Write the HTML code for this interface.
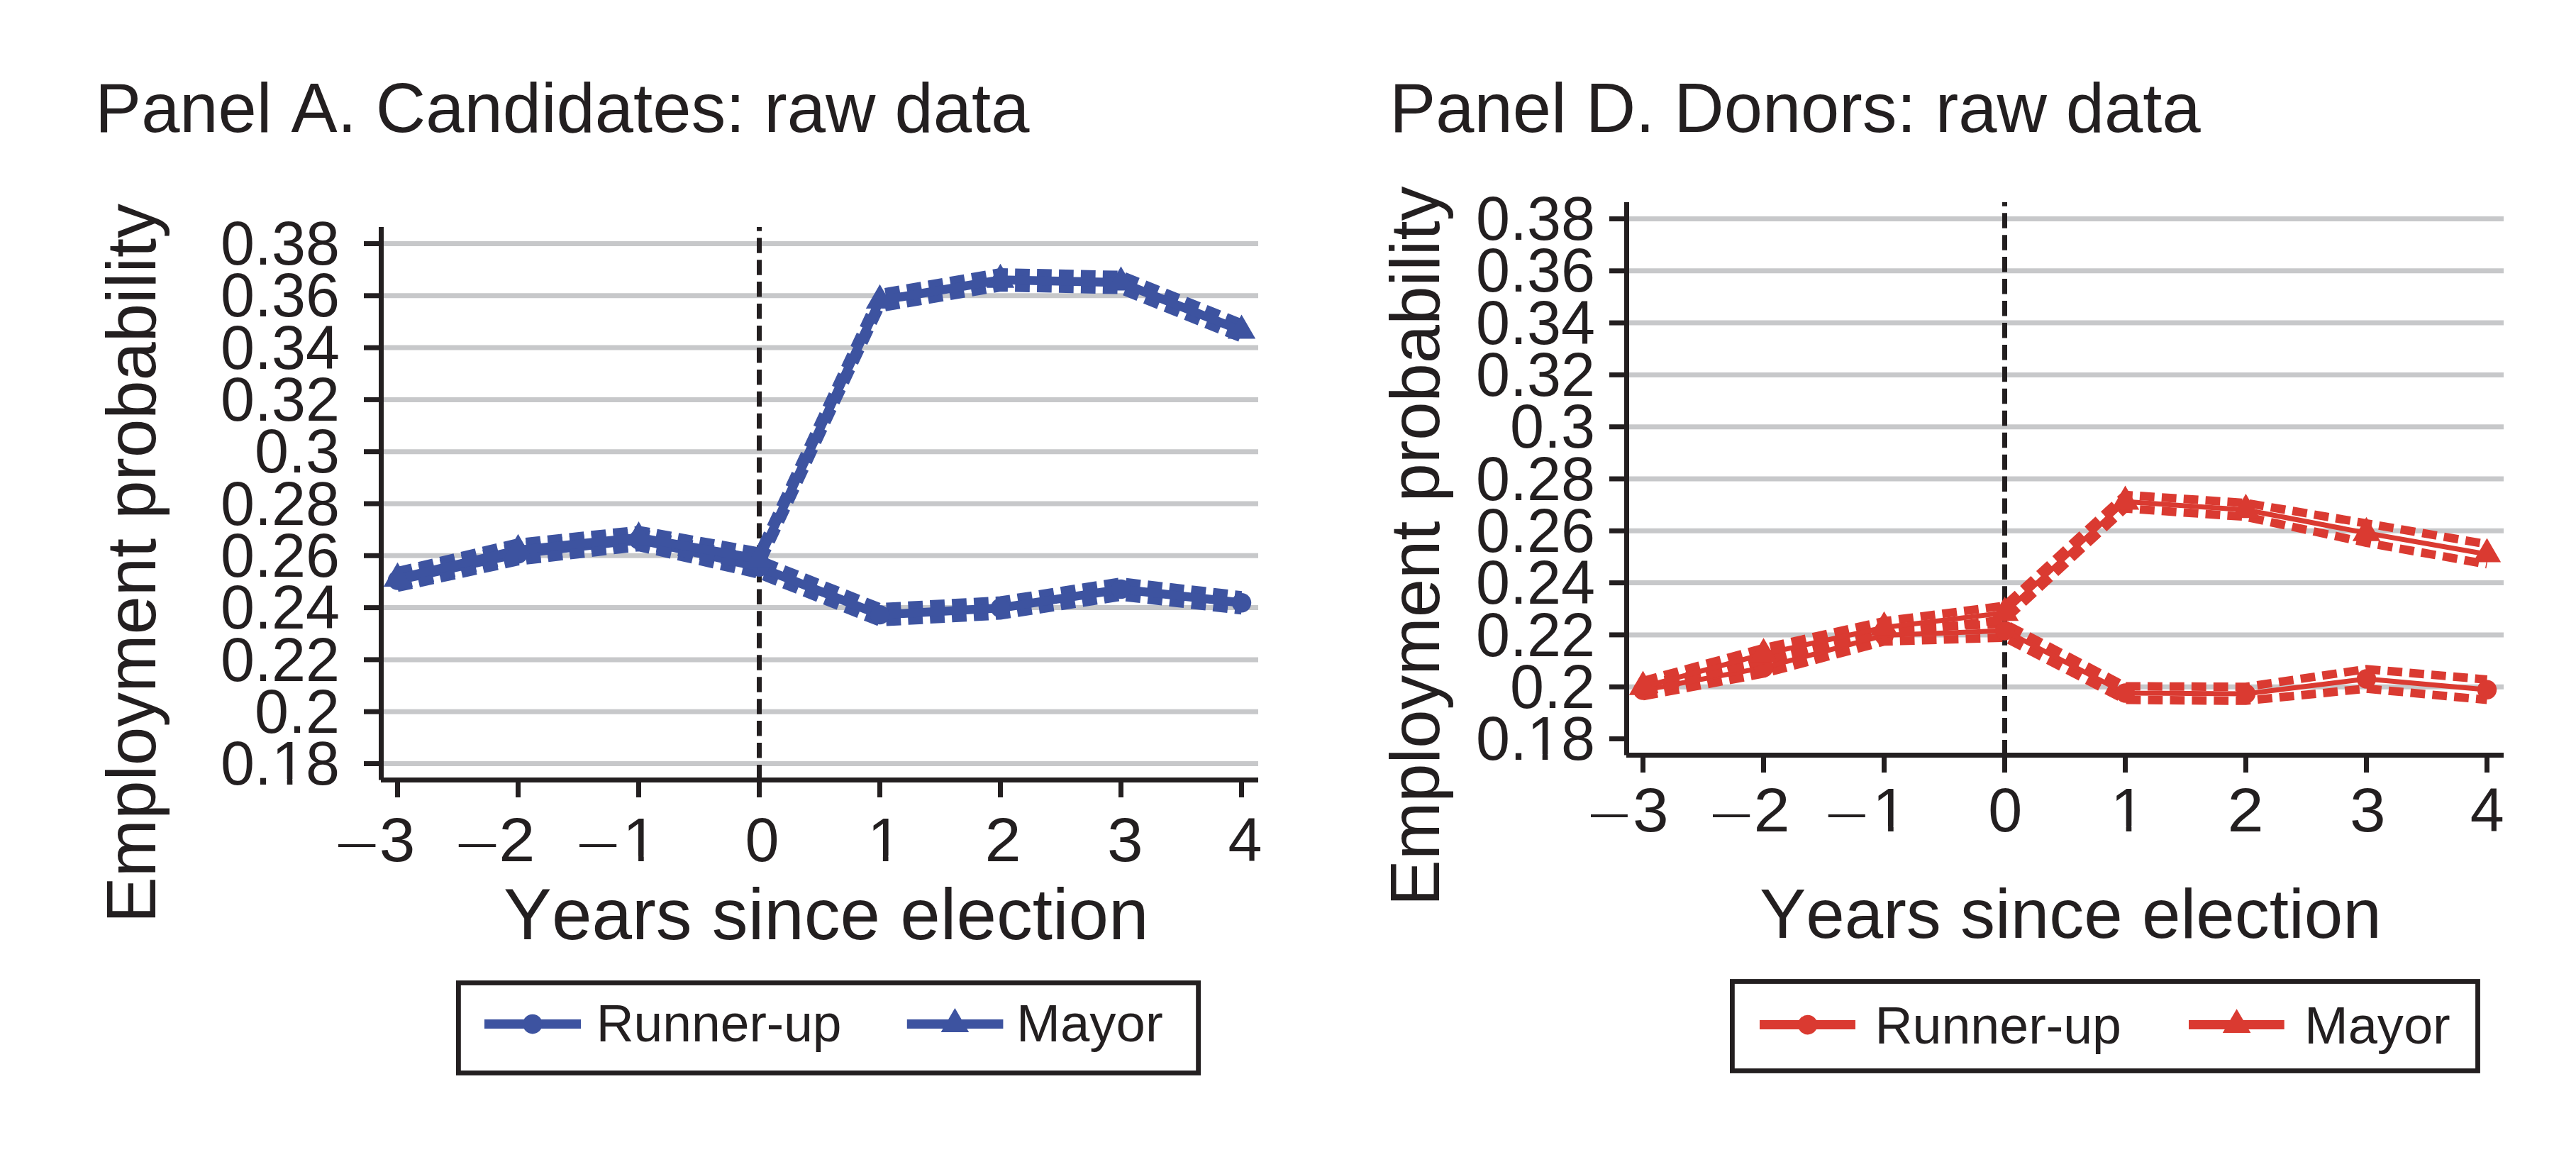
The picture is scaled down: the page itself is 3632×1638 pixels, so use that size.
<!DOCTYPE html>
<html lang="en"><head><meta charset="utf-8"><title>Employment probability: raw data</title>
<style>html,body{margin:0;padding:0;background:#fff}body{width:3632px;height:1638px;overflow:hidden}svg text{white-space:pre;font-kerning:none}</style></head>
<body>
<svg width="3632" height="1638" viewBox="0 0 3632 1638" style="display:block" font-family="'Liberation Sans', sans-serif" fill="#231f20">
<rect width="3632" height="1638" fill="#fff"/>
<g stroke="#c7c8ca" stroke-width="7">
<line x1="541.0" y1="343.50" x2="1774.0" y2="343.50"/>
<line x1="541.0" y1="416.80" x2="1774.0" y2="416.80"/>
<line x1="541.0" y1="490.10" x2="1774.0" y2="490.10"/>
<line x1="541.0" y1="563.40" x2="1774.0" y2="563.40"/>
<line x1="541.0" y1="636.70" x2="1774.0" y2="636.70"/>
<line x1="541.0" y1="710.00" x2="1774.0" y2="710.00"/>
<line x1="541.0" y1="783.30" x2="1774.0" y2="783.30"/>
<line x1="541.0" y1="856.60" x2="1774.0" y2="856.60"/>
<line x1="541.0" y1="929.90" x2="1774.0" y2="929.90"/>
<line x1="541.0" y1="1003.20" x2="1774.0" y2="1003.20"/>
<line x1="541.0" y1="1076.50" x2="1774.0" y2="1076.50"/>
</g>
<line x1="1070.5" y1="1099.5" x2="1070.5" y2="320" stroke="#231f20" stroke-width="7" stroke-dasharray="21.5 9.45"/>
<g fill="none" stroke="#3d53a0" stroke-linejoin="miter">
<polyline points="560.5,807.3 730.5,770.0 900.5,750.0 1070.5,788.7 1240.5,855.9 1410.5,846.3 1580.5,819.8 1750.5,839.1" stroke-width="11.6" stroke-dasharray="20.73 10.2"/>
<polyline points="560.5,828.7 730.5,791.4 900.5,771.4 1070.5,810.1 1240.5,877.3 1410.5,867.7 1580.5,841.2 1750.5,860.5" stroke-width="11.6" stroke-dasharray="20.73 10.2"/>
<polyline points="560.5,818.0 730.5,780.7 900.5,760.7 1070.5,799.4 1240.5,866.6 1410.5,857.0 1580.5,830.5 1750.5,849.8" stroke-width="12.5"/>
</g>
<g fill="#3d53a0">
<circle cx="560.5" cy="818.0" r="13.7"/>
<circle cx="730.5" cy="780.7" r="13.7"/>
<circle cx="900.5" cy="760.7" r="13.7"/>
<circle cx="1070.5" cy="799.4" r="13.7"/>
<circle cx="1240.5" cy="866.6" r="13.7"/>
<circle cx="1410.5" cy="857.0" r="13.7"/>
<circle cx="1580.5" cy="830.5" r="13.7"/>
<circle cx="1750.5" cy="849.8" r="13.7"/>
</g>
<g fill="none" stroke="#3d53a0" stroke-linejoin="miter">
<polyline points="560.5,804.9 730.5,764.8 900.5,747.1 1070.5,777.3 1240.5,412.9 1410.5,383.8 1580.5,387.5 1750.5,455.5" stroke-width="11.6" stroke-dasharray="20.73 10.2"/>
<polyline points="560.5,826.3 730.5,786.2 900.5,768.5 1070.5,798.7 1240.5,434.3 1410.5,405.2 1580.5,408.9 1750.5,476.9" stroke-width="11.6" stroke-dasharray="20.73 10.2"/>
<polyline points="560.5,815.6 730.5,775.5 900.5,757.8 1070.5,788.0 1240.5,423.6 1410.5,394.5 1580.5,398.2 1750.5,466.2" stroke-width="12.5"/>
</g>
<g fill="#3d53a0">
<polygon points="560.5,792.87 580.2,826.97 540.8,826.97"/>
<polygon points="730.5,752.77 750.2,786.87 710.8,786.87"/>
<polygon points="900.5,735.07 920.2,769.17 880.8,769.17"/>
<polygon points="1070.5,765.27 1090.2,799.37 1050.8,799.37"/>
<polygon points="1240.5,400.87 1260.2,434.97 1220.8,434.97"/>
<polygon points="1410.5,371.77 1430.2,405.87 1390.8,405.87"/>
<polygon points="1580.5,375.47 1600.2,409.57 1560.8,409.57"/>
<polygon points="1750.5,443.47 1770.2,477.57 1730.8,477.57"/>
</g>
<g stroke="#231f20" stroke-width="7" fill="none">
<line x1="537.5" y1="320" x2="537.5" y2="1099.5"/>
<line x1="537.0" y1="1099.5" x2="1774" y2="1099.5"/>
<line x1="513.0" y1="343.50" x2="534.5" y2="343.50"/>
<line x1="513.0" y1="416.80" x2="534.5" y2="416.80"/>
<line x1="513.0" y1="490.10" x2="534.5" y2="490.10"/>
<line x1="513.0" y1="563.40" x2="534.5" y2="563.40"/>
<line x1="513.0" y1="636.70" x2="534.5" y2="636.70"/>
<line x1="513.0" y1="710.00" x2="534.5" y2="710.00"/>
<line x1="513.0" y1="783.30" x2="534.5" y2="783.30"/>
<line x1="513.0" y1="856.60" x2="534.5" y2="856.60"/>
<line x1="513.0" y1="929.90" x2="534.5" y2="929.90"/>
<line x1="513.0" y1="1003.20" x2="534.5" y2="1003.20"/>
<line x1="513.0" y1="1076.50" x2="534.5" y2="1076.50"/>
<line x1="560.5" y1="1102.5" x2="560.5" y2="1124.0"/>
<line x1="730.5" y1="1102.5" x2="730.5" y2="1124.0"/>
<line x1="900.5" y1="1102.5" x2="900.5" y2="1124.0"/>
<line x1="1070.5" y1="1102.5" x2="1070.5" y2="1124.0"/>
<line x1="1240.5" y1="1102.5" x2="1240.5" y2="1124.0"/>
<line x1="1410.5" y1="1102.5" x2="1410.5" y2="1124.0"/>
<line x1="1580.5" y1="1102.5" x2="1580.5" y2="1124.0"/>
<line x1="1750.5" y1="1102.5" x2="1750.5" y2="1124.0"/>
</g>
<g stroke="#c7c8ca" stroke-width="7">
<line x1="2297.0" y1="308.50" x2="3530.0" y2="308.50"/>
<line x1="2297.0" y1="381.80" x2="3530.0" y2="381.80"/>
<line x1="2297.0" y1="455.10" x2="3530.0" y2="455.10"/>
<line x1="2297.0" y1="528.40" x2="3530.0" y2="528.40"/>
<line x1="2297.0" y1="601.70" x2="3530.0" y2="601.70"/>
<line x1="2297.0" y1="675.00" x2="3530.0" y2="675.00"/>
<line x1="2297.0" y1="748.30" x2="3530.0" y2="748.30"/>
<line x1="2297.0" y1="821.60" x2="3530.0" y2="821.60"/>
<line x1="2297.0" y1="894.90" x2="3530.0" y2="894.90"/>
<line x1="2297.0" y1="968.20" x2="3530.0" y2="968.20"/>
</g>
<line x1="2826.5" y1="1064.5" x2="2826.5" y2="285" stroke="#231f20" stroke-width="7" stroke-dasharray="21.5 9.45"/>
<g fill="none" stroke="#da3a31" stroke-linejoin="miter">
<polyline points="2316.5,964.7 2486.5,932.9 2656.5,886.7 2826.5,879.2 2996.5,967.4 3166.5,968.2 3336.5,943.2 3506.5,957.9" stroke-width="12" stroke-dasharray="20.73 10.2"/>
<polyline points="2316.5,981.3 2486.5,949.5 2656.5,904.3 2826.5,898.8 2996.5,986.6 3166.5,987.8 3336.5,970.8 3506.5,986.5" stroke-width="12" stroke-dasharray="20.73 10.2"/>
<polyline points="2316.5,973.0 2486.5,941.2 2656.5,895.5 2826.5,889.0 2996.5,977.0 3166.5,978.0 3336.5,957.0 3506.5,972.2" stroke-width="7"/>
</g>
<g fill="#da3a31">
<circle cx="2316.5" cy="973.0" r="13.7"/>
<circle cx="2486.5" cy="941.2" r="13.7"/>
<circle cx="2656.5" cy="895.5" r="13.7"/>
<circle cx="2826.5" cy="889.0" r="13.7"/>
<circle cx="2996.5" cy="977.0" r="13.7"/>
<circle cx="3166.5" cy="978.0" r="13.7"/>
<circle cx="3336.5" cy="957.0" r="13.7"/>
<circle cx="3506.5" cy="972.2" r="13.7"/>
</g>
<g fill="none" stroke="#da3a31" stroke-linejoin="miter">
<polyline points="2316.5,960.0 2486.5,913.7 2656.5,875.7 2826.5,854.0 2996.5,697.7 3166.5,709.1 3336.5,737.8 3506.5,767.1" stroke-width="12" stroke-dasharray="20.73 10.2"/>
<polyline points="2316.5,976.6 2486.5,930.3 2656.5,893.3 2826.5,873.6 2996.5,716.7 3166.5,728.5 3336.5,765.0 3506.5,795.3" stroke-width="12" stroke-dasharray="20.73 10.2"/>
<polyline points="2316.5,968.3 2486.5,922.0 2656.5,884.5 2826.5,863.8 2996.5,707.2 3166.5,718.8 3336.5,751.4 3506.5,781.2" stroke-width="7"/>
</g>
<g fill="#da3a31">
<polygon points="2316.5,945.57 2336.2,979.67 2296.8,979.67"/>
<polygon points="2486.5,899.27 2506.2,933.37 2466.8,933.37"/>
<polygon points="2656.5,861.77 2676.2,895.87 2636.8,895.87"/>
<polygon points="2826.5,841.07 2846.2,875.17 2806.8,875.17"/>
<polygon points="2996.5,684.47 3016.2,718.57 2976.8,718.57"/>
<polygon points="3166.5,696.07 3186.2,730.17 3146.8,730.17"/>
<polygon points="3336.5,728.67 3356.2,762.77 3316.8,762.77"/>
<polygon points="3506.5,758.47 3526.2,792.57 3486.8,792.57"/>
</g>
<g stroke="#231f20" stroke-width="7" fill="none">
<line x1="2293.5" y1="285" x2="2293.5" y2="1064.5"/>
<line x1="2293.0" y1="1064.5" x2="3530" y2="1064.5"/>
<line x1="2269.0" y1="308.50" x2="2290.5" y2="308.50"/>
<line x1="2269.0" y1="381.80" x2="2290.5" y2="381.80"/>
<line x1="2269.0" y1="455.10" x2="2290.5" y2="455.10"/>
<line x1="2269.0" y1="528.40" x2="2290.5" y2="528.40"/>
<line x1="2269.0" y1="601.70" x2="2290.5" y2="601.70"/>
<line x1="2269.0" y1="675.00" x2="2290.5" y2="675.00"/>
<line x1="2269.0" y1="748.30" x2="2290.5" y2="748.30"/>
<line x1="2269.0" y1="821.60" x2="2290.5" y2="821.60"/>
<line x1="2269.0" y1="894.90" x2="2290.5" y2="894.90"/>
<line x1="2269.0" y1="968.20" x2="2290.5" y2="968.20"/>
<line x1="2269.0" y1="1041.50" x2="2290.5" y2="1041.50"/>
<line x1="2316.5" y1="1067.5" x2="2316.5" y2="1089.0"/>
<line x1="2486.5" y1="1067.5" x2="2486.5" y2="1089.0"/>
<line x1="2656.5" y1="1067.5" x2="2656.5" y2="1089.0"/>
<line x1="2826.5" y1="1067.5" x2="2826.5" y2="1089.0"/>
<line x1="2996.5" y1="1067.5" x2="2996.5" y2="1089.0"/>
<line x1="3166.5" y1="1067.5" x2="3166.5" y2="1089.0"/>
<line x1="3336.5" y1="1067.5" x2="3336.5" y2="1089.0"/>
<line x1="3506.5" y1="1067.5" x2="3506.5" y2="1089.0"/>
</g>
<rect x="646.4" y="1385.5" width="1043.2" height="127" fill="none" stroke="#231f20" stroke-width="6.8"/>
<line x1="683" y1="1443.5" x2="819" y2="1443.5" stroke="#3d53a0" stroke-width="13"/>
<circle cx="750.9" cy="1443.6" r="13.8" fill="#3d53a0"/>
<line x1="1278.8" y1="1443.5" x2="1414.4" y2="1443.5" stroke="#3d53a0" stroke-width="13"/>
<polygon points="1346.4,1421 1366.2,1454.9 1326.6,1454.9" fill="#3d53a0"/>
<rect x="2442.4" y="1383.5" width="1051.1" height="126" fill="none" stroke="#231f20" stroke-width="6.8"/>
<line x1="2481" y1="1444.5" x2="2616" y2="1444.5" stroke="#da3a31" stroke-width="13"/>
<circle cx="2548.7" cy="1444.6" r="13.8" fill="#da3a31"/>
<line x1="3086" y1="1444.5" x2="3220.7" y2="1444.5" stroke="#da3a31" stroke-width="13"/>
<polygon points="3153.6,1422.3 3173.4,1456 3133.8,1456" fill="#da3a31"/>
<text x="134.10" y="185.90" font-size="97.53">Panel A. Candidates: raw data</text>
<text x="1959.30" y="185.90" font-size="97.49">Panel D. Donors: raw data</text>
<text transform="translate(219.10,1301.21) rotate(-90)" font-size="97.59">Employment probability</text>
<text transform="translate(2029.20,1277.21) rotate(-90)" font-size="97.63">Employment probability</text>
<text x="710.12" y="1323.50" font-size="101.64">Years since election</text>
<text x="2480.91" y="1322.00" font-size="97.98">Years since election</text>
<text x="840.64" y="1468.00" font-size="73.22">Runner-up</text>
<text x="1433.05" y="1468.00" font-size="74.36">Mayor</text>
<text x="2643.41" y="1470.80" font-size="73.57">Runner-up</text>
<text x="3248.97" y="1470.80" font-size="74.07">Mayor</text>
<text x="479.0" y="373.1" font-size="86.3" text-anchor="end">0.38</text>
<text x="479.0" y="446.4" font-size="86.3" text-anchor="end">0.36</text>
<text x="479.0" y="519.7" font-size="86.3" text-anchor="end">0.34</text>
<text x="479.0" y="593.0" font-size="86.3" text-anchor="end">0.32</text>
<text x="479.0" y="666.3" font-size="86.3" text-anchor="end">0.3</text>
<text x="479.0" y="739.6" font-size="86.3" text-anchor="end">0.28</text>
<text x="479.0" y="812.9" font-size="86.3" text-anchor="end">0.26</text>
<text x="479.0" y="886.2" font-size="86.3" text-anchor="end">0.24</text>
<text x="479.0" y="959.5" font-size="86.3" text-anchor="end">0.22</text>
<text x="479.0" y="1032.8" font-size="86.3" text-anchor="end">0.2</text>
<text x="479.0" y="1106.1" font-size="86.3" text-anchor="end">0.18</text>
<rect x="388.06" y="1098.05" width="16.64" height="9.85" fill="#fff"/>
<rect x="412.34" y="1098.05" width="15.42" height="9.85" fill="#fff"/>
<text x="2249.0" y="338.1" font-size="86.3" text-anchor="end">0.38</text>
<text x="2249.0" y="411.4" font-size="86.3" text-anchor="end">0.36</text>
<text x="2249.0" y="484.7" font-size="86.3" text-anchor="end">0.34</text>
<text x="2249.0" y="558.0" font-size="86.3" text-anchor="end">0.32</text>
<text x="2249.0" y="631.3" font-size="86.3" text-anchor="end">0.3</text>
<text x="2249.0" y="704.6" font-size="86.3" text-anchor="end">0.28</text>
<text x="2249.0" y="777.9" font-size="86.3" text-anchor="end">0.26</text>
<text x="2249.0" y="851.2" font-size="86.3" text-anchor="end">0.24</text>
<text x="2249.0" y="924.5" font-size="86.3" text-anchor="end">0.22</text>
<text x="2249.0" y="997.8" font-size="86.3" text-anchor="end">0.2</text>
<text x="2249.0" y="1071.1" font-size="86.3" text-anchor="end">0.18</text>
<rect x="2158.06" y="1063.05" width="16.64" height="9.85" fill="#fff"/>
<rect x="2182.34" y="1063.05" width="15.42" height="9.85" fill="#fff"/>
<text transform="translate(476.90,1192.80) scale(1.0927,0.7102)" x="0" y="21.89" font-size="86.3">–</text>
<text transform="translate(559.80,1214.4) scale(1.055,1)" x="-23.75" y="0" font-size="86.3">3</text>
<text transform="translate(646.80,1192.80) scale(1.0948,0.7102)" x="0" y="21.89" font-size="86.3">–</text>
<text transform="translate(728.95,1214.4) scale(1.066,1)" x="-24.00" y="0" font-size="86.3">2</text>
<text transform="translate(817.00,1192.80) scale(1.0885,0.7102)" x="0" y="21.89" font-size="86.3">–</text>
<text x="878.37" y="1214.4" font-size="86.3">1</text>
<rect x="883.43" y="1206.35" width="16.64" height="9.85" fill="#fff"/>
<rect x="907.70" y="1206.35" width="15.42" height="9.85" fill="#fff"/>
<text x="1050.45" y="1214.4" font-size="86.3">0</text>
<text x="1223.17" y="1214.4" font-size="86.3">1</text>
<rect x="1228.23" y="1206.35" width="16.64" height="9.85" fill="#fff"/>
<rect x="1252.50" y="1206.35" width="15.42" height="9.85" fill="#fff"/>
<text transform="translate(1414.20,1214.4) scale(1.066,1)" x="-24.00" y="0" font-size="86.3">2</text>
<text transform="translate(1586.05,1214.4) scale(1.055,1)" x="-23.75" y="0" font-size="86.3">3</text>
<text x="1731.53" y="1214.4" font-size="86.3">4</text>
<text transform="translate(2243.10,1150.50) scale(1.0823,0.7102)" x="0" y="21.89" font-size="86.3">–</text>
<text transform="translate(2326.95,1172.3) scale(1.055,1)" x="-23.75" y="0" font-size="86.3">3</text>
<text transform="translate(2415.00,1150.50) scale(1.0885,0.7102)" x="0" y="21.89" font-size="86.3">–</text>
<text transform="translate(2498.00,1172.3) scale(1.066,1)" x="-24.00" y="0" font-size="86.3">2</text>
<text transform="translate(2577.80,1150.50) scale(1.0865,0.7102)" x="0" y="21.89" font-size="86.3">–</text>
<text x="2640.37" y="1172.3" font-size="86.3">1</text>
<rect x="2645.43" y="1164.25" width="16.64" height="9.85" fill="#fff"/>
<rect x="2669.70" y="1164.25" width="15.42" height="9.85" fill="#fff"/>
<text x="2803.15" y="1172.3" font-size="86.3">0</text>
<text x="2975.97" y="1172.3" font-size="86.3">1</text>
<rect x="2981.03" y="1164.25" width="16.64" height="9.85" fill="#fff"/>
<rect x="3005.30" y="1164.25" width="15.42" height="9.85" fill="#fff"/>
<text transform="translate(3166.10,1172.3) scale(1.066,1)" x="-24.00" y="0" font-size="86.3">2</text>
<text transform="translate(3338.15,1172.3) scale(1.055,1)" x="-23.75" y="0" font-size="86.3">3</text>
<text x="3482.83" y="1172.3" font-size="86.3">4</text>
</svg>
</body></html>
